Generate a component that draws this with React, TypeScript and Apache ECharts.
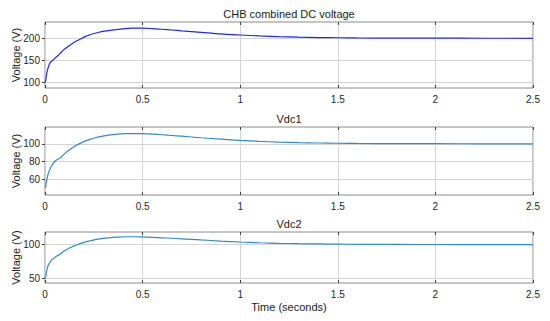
import React, { useEffect, useRef } from "react";
import * as echarts from "echarts";

const time = [0, 0.003, 0.006, 0.009, 0.013, 0.017, 0.026, 0.035, 0.043, 0.055, 0.068, 0.08, 0.094, 0.107, 0.12, 0.137, 0.154, 0.18, 0.205, 0.23, 0.257, 0.29, 0.325, 0.37, 0.41, 0.45, 0.5, 0.55, 0.6, 0.65, 0.7, 0.8, 0.9, 1.0, 1.1, 1.2, 1.3, 1.4, 1.5, 1.6, 1.8, 2.0, 2.25, 2.5];
const vCombined = [100, 102, 112, 120, 128, 134.5, 144, 148.5, 151.5, 156.5, 161.5, 167, 173, 177.5, 182, 187, 192, 198, 203.7, 208, 211.5, 215, 217.5, 220, 222, 223, 223, 222, 220.5, 218.8, 217, 213.5, 210, 207.5, 205.3, 203.6, 202.5, 201.7, 201.2, 200.8, 200.4, 200.2, 200.1, 200];
const vdc1 = [50, 51, 55.5, 59, 63, 66.5, 71.5, 75.5, 78, 81, 82.8, 84.3, 87.5, 90, 92.3, 95, 97.5, 100.5, 103, 105, 106.8, 108.4, 109.8, 111, 111.5, 111.6, 111.4, 110.9, 110.2, 109.4, 108.6, 106.8, 105.2, 103.8, 102.7, 101.9, 101.3, 100.9, 100.6, 100.4, 100.2, 100.1, 100, 100];
const vdc2 = [50, 52, 57, 62, 66, 70, 74, 77.5, 79.4, 82, 84.3, 86.5, 89.8, 92, 94.2, 96.5, 98.5, 101.5, 103.6, 105.5, 107.3, 108.8, 110, 111, 111.5, 111.5, 111.2, 110.7, 110, 109.3, 108.5, 106.8, 105.2, 103.8, 102.7, 101.9, 101.3, 100.9, 100.6, 100.4, 100.2, 100.1, 100, 100];

const titles = ["CHB combined DC voltage", "Vdc1", "Vdc2"];
const yTicks = [[100, 150, 200], [60, 80, 100], [50, 100]];
const yMin = [87, 42, 43.5];
const yMax = [237, 119, 118.5];
const xTicks = [0, 0.5, 1, 1.5, 2, 2.5];
const yName = "Voltage (V)";
const xName = "Time (seconds)";

const seriesValues = [vCombined, vdc1, vdc2];
const colors = ["#2323ff", "#2f89d2", "#2f89d2"];

const gridPos = [
  { left: 45, top: 22, width: 488, height: 66 },
  { left: 45, top: 127, width: 488, height: 68 },
  { left: 45, top: 232, width: 488, height: 51 },
];

const FONT = "Liberation Sans, Arial, Helvetica, sans-serif";
const TEXT = "#262626";
const GRIDC = "#d4d4d4";
const TICKC = "#404040";

export default function App() {
  const ref = useRef<HTMLDivElement>(null);
  useEffect(() => {
    if (!ref.current) return;
    const chart = echarts.init(ref.current, undefined, { renderer: "svg" });
    const grid: any[] = [];
    const xAxis: any[] = [];
    const yAxis: any[] = [];
    const series: any[] = [];
    const graphic: any[] = [];
    gridPos.forEach((g, i) => {
      grid.push({ ...g, show: true, borderColor: "#8a8a8a", borderWidth: 1, backgroundColor: "#fff" });
      xAxis.push({
        type: "value", gridIndex: i, min: 0, max: 2.5, interval: 0.5, position: "bottom",
        axisLine: { show: false },
        axisTick: { show: true, inside: true, length: 3, lineStyle: { color: TICKC } },
        axisLabel: { show: true, margin: 6, color: TEXT, fontSize: 10, fontFamily: FONT, customValues: xTicks },
        splitLine: { show: true, lineStyle: { color: GRIDC, width: 1 } },
      });
      xAxis.push({
        type: "value", gridIndex: i, min: 0, max: 2.5, interval: 0.5, position: "top",
        axisLine: { show: false },
        axisTick: { show: true, inside: true, length: 3, lineStyle: { color: TICKC } },
        axisLabel: { show: false },
        splitLine: { show: false },
      });
      yAxis.push({
        type: "value", gridIndex: i, min: yMin[i], max: yMax[i], position: "left",
        axisLine: { show: false },
        axisTick: { show: true, inside: true, length: 3, lineStyle: { color: TICKC }, customValues: yTicks[i] },
        axisLabel: { show: true, margin: 5, color: TEXT, fontSize: 10, fontFamily: FONT, customValues: yTicks[i] },
        splitLine: { show: false },
      });
      yAxis.push({
        type: "value", gridIndex: i, min: yMin[i], max: yMax[i], position: "right",
        axisLine: { show: false },
        axisTick: { show: true, inside: true, length: 3, lineStyle: { color: TICKC }, customValues: yTicks[i] },
        axisLabel: { show: false },
        splitLine: { show: false },
      });
      series.push({
        type: "line", xAxisIndex: 2 * i, yAxisIndex: 2 * i, data: [], z: 1, silent: true,
        markLine: {
          z: 1, silent: true, symbol: "none", label: { show: false },
          lineStyle: { color: GRIDC, type: "solid", width: 1 },
          data: yTicks[i].map((v) => ({ yAxis: v })),
        },
      });
      series.push({
        type: "line", xAxisIndex: 2 * i, yAxisIndex: 2 * i, z: 6,
        data: time.map((t, k) => [t, seriesValues[i][k]]),
        showSymbol: false, smooth: 0.3,
        lineStyle: { color: colors[i], width: 1.2 },
        itemStyle: { color: colors[i] },
      });
      graphic.push({
        type: "text", x: g.left + g.width / 2, y: g.top - 8,
        style: { text: titles[i], fill: "#1a1a1a", font: `11px ${FONT}`, textAlign: "center", textVerticalAlign: "middle" },
      });
      graphic.push({
        type: "text", x: 16, y: g.top + g.height / 2, rotation: Math.PI / 2,
        style: { text: yName, fill: "#1a1a1a", font: `11px ${FONT}`, textAlign: "center", textVerticalAlign: "middle" },
      });
    });
    graphic.push({
      type: "text", x: 289, y: 307,
      style: { text: xName, fill: "#1a1a1a", font: `11px ${FONT}`, textAlign: "center", textVerticalAlign: "middle" },
    });
    chart.setOption({
      animation: false,
      backgroundColor: "#fff",
      grid, xAxis, yAxis, series, graphic,
    });
    return () => chart.dispose();
  }, []);
  return <div ref={ref} style={{ position: "absolute", left: 0, top: 0, width: 550, height: 321 }} />;
}
